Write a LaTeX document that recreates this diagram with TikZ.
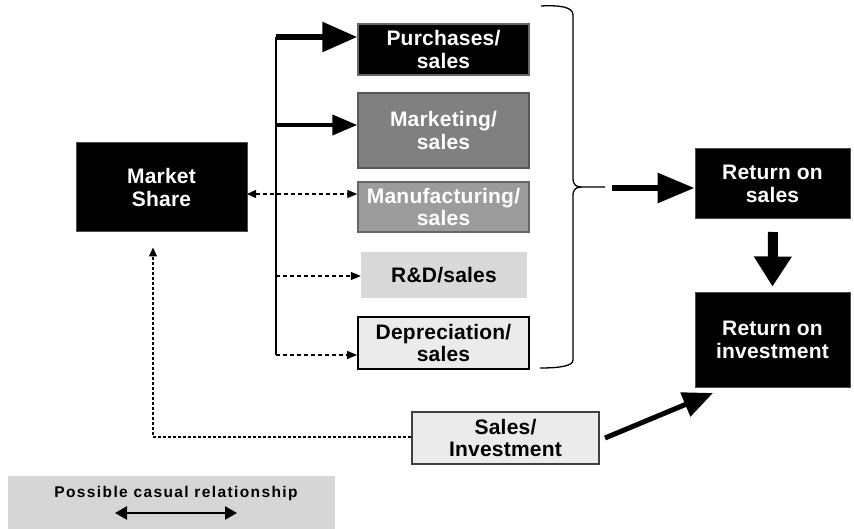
\documentclass[tikz,border=0pt]{standalone}
\usepackage{fontspec}
\setmainfont{Liberation Sans}[LetterSpace=1]
\usetikzlibrary{arrows.meta,calc}
\definecolor{midgray}{HTML}{808080}
\definecolor{manugray}{HTML}{9C9C9C}
\definecolor{rdgray}{HTML}{D9D9D9}
\definecolor{palegray}{HTML}{EBEBEB}
\definecolor{leggray}{HTML}{D6D6D6}
\tikzset{
  box/.style={rectangle, inner sep=0pt, align=center, font=\fontsize{21}{22.5}\selectfont\bfseries},
  darkbox/.style={box, fill=black, draw=black!70, line width=1pt, text=white},
  thinconn/.style={line width=1.2pt, dash pattern=on 4pt off 3pt, -{Triangle[length=10pt,width=8pt]}},
  dotconn/.style={line width=1.3pt, dash pattern=on 3pt off 2pt},
}
\begin{document}
\begin{tikzpicture}[x=1pt,y=-1pt]
\useasboundingbox (0,0) rectangle (854,529);
% boxes
\node[darkbox, minimum width=171pt, minimum height=89pt] (ms) at (161.5,187.5) {Market\\Share};
\node[darkbox, draw=black!60, line width=1.5pt, minimum width=171pt, minimum height=51pt] (pur) at (443.5,49.5) {Purchases/\\sales};
\node[box, fill=midgray, draw=black!65, line width=1.5pt, text=white, minimum width=171pt, minimum height=75pt] (mkt) at (443.5,130.5) {Marketing/\\sales};
\node[box, fill=manugray, draw=black!60, line width=1.5pt, text=white, minimum width=171pt, minimum height=50pt] (man) at (443.5,207) {Manufacturing/\\sales};
\node[box, fill=rdgray, minimum width=166pt, minimum height=46pt] (rd) at (444,275) {R\&D/sales};
\node[box, fill=palegray, draw=black, line width=1.8pt, minimum width=171pt, minimum height=52pt] (dep) at (443.5,343) {Depreciation/\\sales};
\node[darkbox, minimum width=155pt, minimum height=70pt] (ros) at (772.5,184) {Return on\\sales};
\node[darkbox, minimum width=155pt, minimum height=94pt] (roi) at (772.5,340) {Return on\\investment};
\node[box, fill=palegray, draw=black!75, line width=1.8pt, minimum width=187pt, minimum height=52pt] (si) at (505.5,438) {Sales/\\Investment};
% legend
\node[rectangle, fill=leggray, inner sep=0pt, minimum width=327pt, minimum height=53pt] (leg) at (171.5,502.5) {};
\node[font=\fontsize{15.5}{18}\selectfont\bfseries\addfontfeature{LetterSpace=9}, inner sep=0pt] (legtxt) at (176,493) {Possible casual relationship};
\coordinate (la) at (115,513);
\coordinate (lb) at (237,513);
\draw[line width=2.5pt, {Triangle[length=12pt,width=13pt]}-{Triangle[length=12pt,width=13pt]}] (la) -- (lb);
% trunk
\coordinate (tTop) at (276,37);
\coordinate (tBot) at (276,355);
\draw[line width=2pt] (tTop) -- (tBot);
% arrows to ratio boxes
\draw[line width=6pt, -{Triangle[length=35pt,width=29pt]}] (tTop) -- (pur.west |- tTop);
\coordinate (tMkt) at (276,125);
\draw[line width=4pt, -{Triangle[length=25pt,width=20pt]}] (tMkt) -- (mkt.west |- tMkt);
\coordinate (msR) at (247,194);
\draw[line width=1.2pt, dash pattern=on 4pt off 3pt, {Triangle[length=9pt,width=8pt]}-{Triangle[length=10pt,width=8pt]}] (msR) -- (man.west |- msR);
\coordinate (tRd) at (276,276);
\draw[thinconn] (tRd) -- (rd.west |- tRd);
\draw[thinconn] (tBot) -- (dep.west |- tBot);
% brace
\coordinate (bTop) at (541,6);
\coordinate (bBot) at (540,368);
\coordinate (bTip) at (605,187);
\draw[line width=1.3pt, line join=round]
  (bTop) .. controls (560,5) and (573,7) .. (573,15) -- (573,178)
  .. controls (573,185) and (576,187) .. (582,187) -- (bTip)
  (582,187) .. controls (576,187) and (573,189) .. (573,196) -- (573,360)
  .. controls (573,366) and (560,368) .. (bBot);
\coordinate (bArr) at (612,188);
\draw[line width=6pt, -{Triangle[length=37pt,width=29pt]}] (bArr) -- (ros.west |- bArr);
% down arrow
\coordinate (dA) at (773,232);
\draw[line width=10pt, -{Triangle[length=30pt,width=36pt]}] (dA) -- ($(roi.north)+(0,-6)$);
% sales/investment to ROI
\coordinate (siR) at (605,438);
\coordinate (roiT) at (713,393);
\draw[line width=5pt, -{Triangle[length=30pt,width=25pt]}] (siR) -- (roiT);
% dotted from market share
\coordinate (corner) at (153,437);
\draw[dotconn, -{Triangle[length=9pt,width=8pt]}] (si.west |- corner) -- (corner) -- ($(ms.south -| corner)+(0,15)$);
\end{tikzpicture}
\end{document}
